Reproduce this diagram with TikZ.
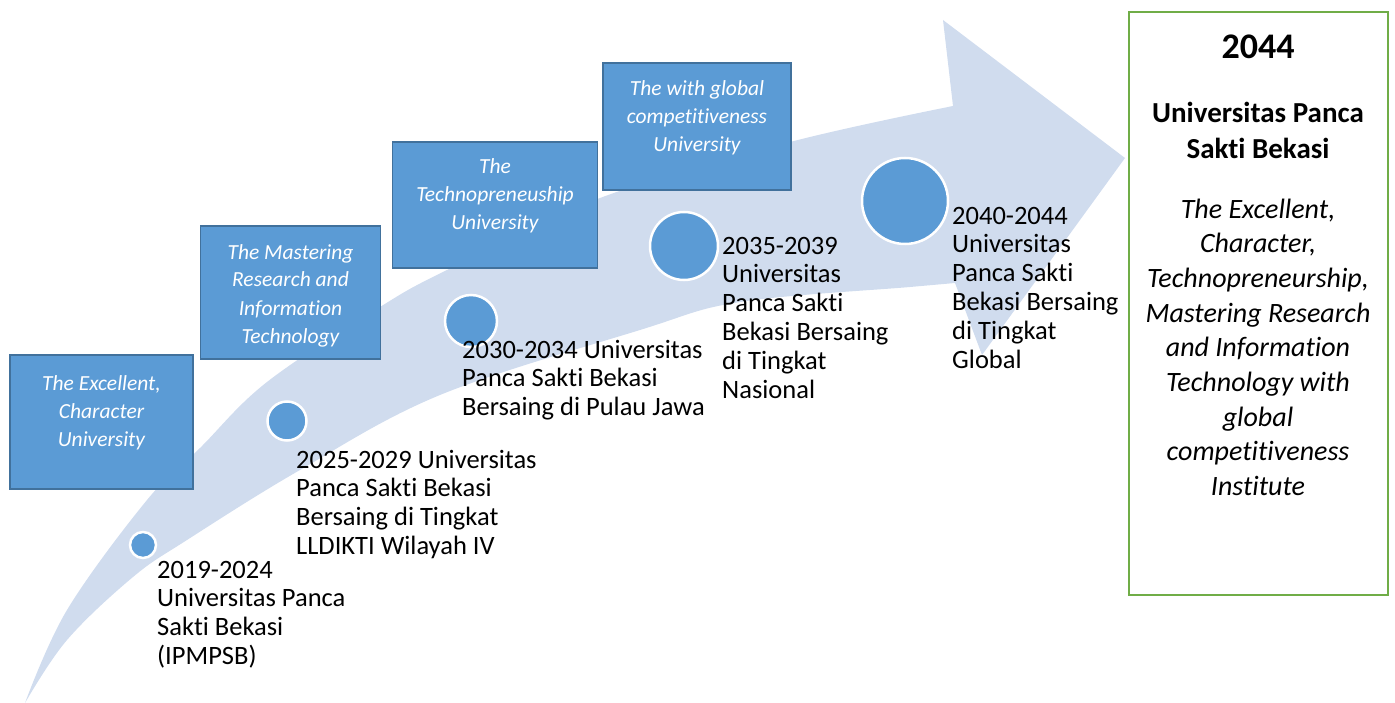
\documentclass[tikz,border=0pt]{standalone}
\usepackage{fontspec}
\setmainfont{Carlito}[RawFeature={-liga;-clig;-dlig}]
\usepackage{xcolor}
\usepackage{tikz}
\definecolor{bandblue}{HTML}{D0DCEE}
\definecolor{stageblue}{HTML}{5B9BD5}
\definecolor{stageedge}{HTML}{41719C}
\definecolor{goalgreen}{HTML}{70AD47}
\tikzset{
	stagebox/.style={draw=stageedge, fill=stageblue, line width=1.8pt, inner sep=0pt},
	stagetext/.style={text=white, align=center, inner sep=0pt, anchor=base,
			font=\fontsize{21.5}{28}\selectfont\itshape},
	dot/.style={circle, fill=stageblue, draw=white, line width=2.5pt, inner sep=0pt},
	period/.style={align=left, inner sep=0pt, anchor=base west,
			font=\fontsize{26.5}{28.8}\selectfont},
}

\begin{document}
\begin{tikzpicture}[x=1pt, y=-1pt]
		\useasboundingbox (0,0) rectangle (1395,703);

		% the rising arrow
		\fill[bandblue] plot[smooth, tension=0.6] coordinates {(25,703) (67,610) (147,500) (200,448) (267,382) (380,307) (447,270) (600,198) (790,142) (953,106)}
			-- (943,20) -- (1125,158) -- (982,355) -- (955,283)
			-- plot[smooth, tension=0.6] coordinates {(955,283) (910,287) (740,302) (640,330) (440,395) (300,470) (187,540) (133,577) (67,640) (25,703)}
			-- cycle;

		% stage boxes (text anchored at the baseline of its last line)
		\node[stagebox, minimum width=183, minimum height=134] (b1) at (101.5,422) {};
		\node[stagebox, minimum width=180, minimum height=133] (b2) at (290.5,292.5) {};
		\node[stagebox, minimum width=205, minimum height=126] (b3) at (495,205) {};
		\node[stagebox, minimum width=188, minimum height=127] (b4) at (697,126.5) {};

		\node[stagetext] (b1-text) at (101.5,446) {The Excellent,\\Character\\University};
		\node[stagetext] (b2-text) at (290.5,343) {The Mastering\\Research and\\Information\\Technology};
		\node[stagetext] (b3-text) at (495,230) {The\\Technopreneuship\\University};
		\node[stagetext] (b4-text) at (697,152) {The with global\\competitiveness\\University};

		% milestones
		\foreach \i/\x/\y/\d in {1/143/545/26, 2/287/421/39, 3/471/321/52, 4/684/246/68, 5/905/201/86} {
				\node[dot, minimum size=\d] (c-\i) at (\x,\y) {};
			}

		\node[period] (t1) at (157,664.4) {2019-2024\\Universitas Panca\\Sakti Bekasi\\(IPMPSB)};
		\node[period] (t2) at (296,554.4) {2025-2029 Universitas\\Panca Sakti Bekasi\\Bersaing di Tingkat\\LLDIKTI Wilayah IV};
		\node[period] (t3) at (462,415.6) {2030-2034 Universitas\\Panca Sakti Bekasi\\Bersaing di Pulau Jawa};
		\node[period] (t4) at (722,398) {2035-2039\\Universitas\\Panca Sakti\\Bekasi Bersaing\\di Tingkat\\Nasional};
		\node[period] (t5) at (952,368) {2040-2044\\Universitas\\Panca Sakti\\Bekasi Bersaing\\di Tingkat\\Global};

		% goal
		\node[draw=goalgreen, line width=2.5pt, fill=white, minimum width=259, minimum height=583] (goal) at (1258.5,303.5) {};
		\node[anchor=base, inner sep=0pt, font=\fontsize{36}{40}\selectfont\bfseries] (goal-year) at (1258,59) {2044};
		\node[anchor=base, inner sep=0pt, align=center, font=\fontsize{29}{36}\selectfont\bfseries] (goal-name) at (1258,159) {Universitas Panca\\Sakti Bekasi};
		\node[anchor=base, inner sep=0pt, align=center, font=\fontsize{28}{34.7}\selectfont\itshape] (goal-motto) at (1258,495.6)
			{The Excellent,\\Character,\\Technopreneurship,\\Mastering Research\\and Information\\Technology with\\global\\competitiveness\\Institute};
	\end{tikzpicture}
\end{document}
